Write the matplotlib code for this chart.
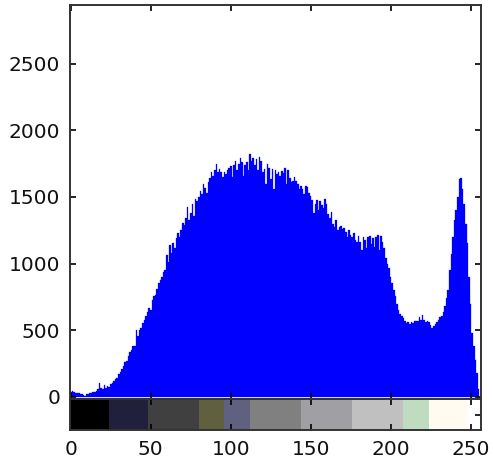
import numpy as np
import matplotlib
matplotlib.use("Agg")
import matplotlib.pyplot as plt
from matplotlib.colors import ListedColormap

# histogram counts for grey levels 0..255
counts = [
    40, 42, 35, 30, 28, 32, 25, 20, 15, 10, 22, 25, 30, 28, 35, 40,
    45, 60, 104, 70, 62, 89, 70, 80, 75, 97, 105, 122, 134, 140, 171, 190,
    210, 233, 260, 270, 307, 340, 350, 380, 385, 506, 460, 506, 521, 555, 580, 610,
    640, 670, 655, 730, 754, 765, 810, 855, 880, 900, 940, 952, 1064, 1010, 1138, 1080,
    1153, 1120, 1190, 1227, 1200, 1250, 1302, 1290, 1340, 1423, 1330, 1380, 1451, 1360, 1488, 1470,
    1500, 1547, 1520, 1600, 1570, 1530, 1610, 1640, 1684, 1660, 1700, 1748, 1690, 1710, 1684, 1650,
    1690, 1670, 1700, 1720, 1733, 1650, 1740, 1771, 1700, 1750, 1795, 1760, 1660, 1740, 1760, 1700,
    1820, 1770, 1790, 1740, 1785, 1700, 1800, 1770, 1690, 1711, 1600, 1748, 1720, 1637, 1711, 1560,
    1700, 1674, 1690, 1660, 1696, 1680, 1720, 1600, 1700, 1640, 1609, 1620, 1650, 1622, 1600, 1560,
    1585, 1560, 1520, 1580, 1572, 1530, 1510, 1480, 1380, 1451, 1480, 1400, 1473, 1440, 1420, 1488,
    1450, 1376, 1340, 1390, 1300, 1274, 1330, 1250, 1274, 1280, 1260, 1265, 1240, 1200, 1250, 1213,
    1200, 1230, 1180, 1163, 1210, 1163, 1100, 1200, 1180, 1120, 1200, 1210, 1150, 1190, 1123, 1200,
    1213, 1100, 1210, 1160, 1120, 1041, 1000, 967, 900, 855, 800, 754, 700, 655, 620, 605,
    590, 570, 558, 560, 545, 560, 555, 568, 570, 568, 600, 580, 617, 580, 560, 570,
    560, 540, 518, 530, 545, 560, 575, 600, 605, 640, 679, 740, 803, 950, 1076, 1200,
    1324, 1400, 1500, 1634, 1640, 1560, 1451, 1300, 1153, 900, 700, 480, 380, 280, 180, 60,
]
levels = np.arange(len(counts))

# colormap strip under the histogram
strip_edges = [-0.5, 24, 48, 80, 96, 112, 144, 176, 208, 224, 248, 256.5]
strip_colors = ["#000000", "#20203c", "#404040", "#606040", "#606080", "#808080",
                "#a0a0a4", "#c0c0c0", "#c0dcc0", "#fffbf0", "#ffffff"]

xticks = [0, 50, 100, 150, 200, 250]
yticks = [0, 500, 1000, 1500, 2000, 2500]

plt.rcParams["font.family"] = "DejaVu Sans"
fig = plt.figure(figsize=(4.93, 4.68), dpi=100)
ax = fig.add_axes([70 / 493, 69 / 468, 411 / 493, 394 / 468])
cax = fig.add_axes([70 / 493, 38 / 468, 411 / 493, 31 / 468])

ax.bar(levels, counts, width=1.0, color="#0000ff", edgecolor="#0000ff", linewidth=0.2)
ax.set_xlim(-0.5, 256.5)
ax.set_ylim(-15, 2940)
ax.set_xticks(xticks)
ax.set_xticklabels([])
ax.set_yticks(yticks)
ax.set_yticklabels([str(v) for v in yticks], fontsize=14.5, color="#111111")
ax.tick_params(direction="in", length=4, width=1.2, top=True, right=True, pad=7)

cax.pcolormesh(strip_edges, [0, 1], np.arange(len(strip_colors))[None, :],
               cmap=ListedColormap(strip_colors), shading="flat")
cax.set_xlim(-0.5, 256.5)
cax.set_ylim(0, 1)
cax.set_xticks(xticks)
cax.set_xticklabels([str(v) for v in xticks], fontsize=14.5, color="#111111")
cax.set_yticks([0.5])
cax.set_yticklabels([])
cax.tick_params(direction="in", length=4, width=1.2, top=True, right=True, pad=7)

for a in (ax, cax):
    for s in a.spines.values():
        s.set_linewidth(1.4)
        s.set_color("#333333")

fig.savefig("out.png", dpi=100)
